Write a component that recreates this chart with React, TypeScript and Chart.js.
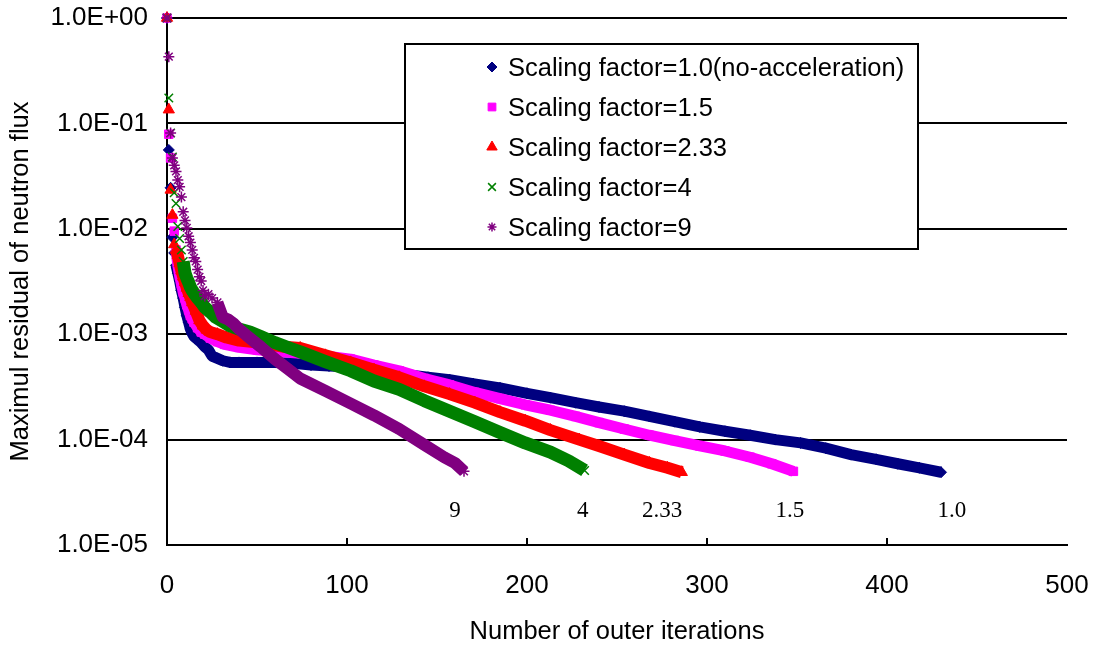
import React, { useEffect, useRef } from 'react';
import { Chart, registerables } from 'chart.js';
import { drawPoint } from 'chart.js/helpers';

Chart.register(...registerables);

// ---------- data ----------
const seriesNames = [
  'Scaling factor=1.0(no-acceleration)',
  'Scaling factor=1.5',
  'Scaling factor=2.33',
  'Scaling factor=4',
  'Scaling factor=9',
];
const seriesColors = ['#000080', '#FF00FF', '#FF0000', '#008000', '#800080'];
const seriesMarkers = ['rectRot', 'rect', 'triangle', 'crossRot', 'star'];

const iterSf10 = [0, 1, 2, 3, 4, 5, 6, 7, 8, 9, 10, 11, 12, 13, 14, 15, 17, 19, 21, 23, 25, 28, 31, 35, 40, 50, 60, 70, 80, 90, 100, 115, 130, 145, 157, 170, 185, 200, 213, 227, 240, 254, 268, 282, 296, 310, 324, 338, 352, 366, 380, 394, 406, 418, 430];
const residSf10 = [1.0, 0.056, 0.0245, 0.0083, 0.0059, 0.0045, 0.0038, 0.0032, 0.0026, 0.0022, 0.0018, 0.0015, 0.0013, 0.00112, 0.00102, 0.00095, 0.00089, 0.00083, 0.00076, 0.00071, 0.00062, 0.00059, 0.00056, 0.00054, 0.00054, 0.00054, 0.00054, 0.00053, 0.00051, 0.0005, 0.00049, 0.00046, 0.00042, 0.00039, 0.00037, 0.00034, 0.00031, 0.000275, 0.00025, 0.000224, 0.000204, 0.000186, 0.000166, 0.000148, 0.000132, 0.00012, 0.00011, 0.0001, 0.000093, 0.000083, 0.000072, 0.000065, 0.000059, 0.000054, 0.000049];

const iterSf15 = [0, 1, 2, 3, 4, 5, 6, 7, 8, 9, 10, 11, 12, 13, 14, 15, 17, 19, 21, 24, 28, 32, 40, 50, 60, 74, 88, 102, 115, 129, 143, 157, 171, 185, 199, 213, 227, 240, 254, 268, 282, 296, 310, 324, 336, 348];
const residSf15 = [1.0, 0.079, 0.047, 0.0126, 0.0095, 0.0063, 0.0045, 0.0036, 0.003, 0.0025, 0.0022, 0.0019, 0.0017, 0.0015, 0.0014, 0.0013, 0.00115, 0.00105, 0.001, 0.00092, 0.00085, 0.0008, 0.00075, 0.00071, 0.00069, 0.00066, 0.00062, 0.00058, 0.00051, 0.00045, 0.00038, 0.00033, 0.00028, 0.000245, 0.000214, 0.00019, 0.000166, 0.000145, 0.000126, 0.00011, 0.000098, 0.000087, 0.000078, 0.000068, 0.000059, 0.00005];

const iterSf233 = [0, 1, 2, 3, 4, 5, 6, 7, 8, 9, 10, 11, 12, 13, 14, 16, 18, 20, 22, 24, 28, 33, 40, 52, 65, 74, 88, 102, 115, 129, 143, 157, 171, 185, 199, 213, 229, 240, 254, 268, 278, 286];
const residSf233 = [1.0, 0.135, 0.0234, 0.0135, 0.0071, 0.0063, 0.0056, 0.0047, 0.004, 0.0035, 0.0031, 0.00275, 0.00245, 0.00224, 0.002, 0.00166, 0.00135, 0.0012, 0.0011, 0.00105, 0.001, 0.00093, 0.00087, 0.00083, 0.00076, 0.00074, 0.00063, 0.00054, 0.00046, 0.00039, 0.00032, 0.00027, 0.000224, 0.000182, 0.000151, 0.000123, 0.0001, 0.000087, 0.000072, 0.00006, 0.000054, 0.000049];

const iterSf4 = [0, 1, 2, 3, 4, 5, 6, 7, 8, 9, 10, 11, 12, 13, 14, 15, 17, 19, 21, 24, 27, 31, 35, 40, 46, 52, 60, 68, 74, 88, 102, 115, 129, 143, 157, 171, 185, 199, 213, 223, 232];
const residSf4 = [1.0, 0.174, 0.081, 0.048, 0.022, 0.0174, 0.0105, 0.0081, 0.0063, 0.0049, 0.0038, 0.0034, 0.0031, 0.0028, 0.0026, 0.00245, 0.0022, 0.002, 0.0018, 0.00162, 0.00145, 0.00132, 0.0012, 0.00112, 0.00105, 0.00095, 0.00083, 0.00074, 0.00068, 0.00055, 0.00045, 0.00036, 0.0003, 0.000234, 0.000186, 0.000148, 0.000117, 0.000093, 0.000076, 0.000063, 0.000051];

const iterSf9 = [0, 1, 2, 3, 4, 5, 6, 7, 8, 9, 10, 11, 12, 13, 14, 15, 16, 17, 18, 19, 20, 21, 23, 25, 28, 31, 34, 37, 40, 45, 52, 60, 67, 74, 88, 102, 115, 129, 143, 154, 160, 165];
const residSf9 = [1.0, 0.43, 0.081, 0.047, 0.04, 0.035, 0.029, 0.025, 0.02, 0.0145, 0.012, 0.0102, 0.0085, 0.0074, 0.0063, 0.0053, 0.0049, 0.0041, 0.0035, 0.0032, 0.0026, 0.0023, 0.0024, 0.0022, 0.002, 0.00145, 0.00138, 0.00126, 0.00112, 0.00095, 0.00076, 0.00058, 0.00047, 0.00038, 0.00029, 0.00022, 0.00017, 0.000126, 0.000089, 0.000068, 0.00006, 0.00005];

const seriesIters = [iterSf10, iterSf15, iterSf233, iterSf4, iterSf9];
const seriesResid = [residSf10, residSf15, residSf233, residSf4, residSf9];

const yTickValues = [1e-5, 1e-4, 1e-3, 1e-2, 1e-1, 1];
const yTickLabels = ['1.0E-05', '1.0E-04', '1.0E-03', '1.0E-02', '1.0E-01', '1.0E+00'];
const xTickValues = [0, 100, 200, 300, 400, 500];
const xTickLabels = ['0', '100', '200', '300', '400', '500'];

const endLabels = ['9', '4', '2.33', '1.5', '1.0'];
const endLabelIter = [160, 231, 275, 346, 436];
const endLabelResid = 2.1e-5;

// ---------- styling ----------
const bandWidth = [11, 11, 12, 13, 12];
const lineStart = [5, 5, 5, 9, 28];
const pointRadius = [5.5, 6, 6.5, 6, 5.5];
const legendRadius = [5, 5.5, 6, 5.5, 4.5];
const SANS = '"Liberation Sans", Arial, sans-serif';

const legendPlugin = {
  id: 'boxLegend',
  afterDraw(chart: any) {
    const ctx = chart.ctx as CanvasRenderingContext2D;
    ctx.save();
    ctx.fillStyle = '#ffffff';
    ctx.fillRect(405, 44, 513, 205);
    ctx.lineWidth = 2;
    ctx.strokeStyle = '#000000';
    ctx.strokeRect(405, 44, 513, 205);
    seriesNames.forEach((name, i) => {
      const y = 67 + i * 40;
      ctx.fillStyle = seriesColors[i];
      ctx.strokeStyle = seriesColors[i];
      ctx.lineWidth = i >= 3 ? 1.5 : 1;
      drawPoint(ctx, { pointStyle: seriesMarkers[i], radius: legendRadius[i], borderWidth: i >= 3 ? 1.5 : 1, rotation: 0 } as any, 492, y);
      ctx.fillStyle = '#000000';
      ctx.font = `25.5px ${SANS}`;
      ctx.textAlign = 'left';
      ctx.textBaseline = 'alphabetic';
      ctx.fillText(name, 508, y + 9);
    });
    ctx.restore();
  },
};

const annotPlugin = {
  id: 'endLabels',
  afterDraw(chart: any) {
    const ctx = chart.ctx as CanvasRenderingContext2D;
    const xs = chart.scales.x;
    const ys = chart.scales.y;
    ctx.save();
    ctx.strokeStyle = '#000000';
    ctx.lineWidth = 2;
    xTickValues.slice(1, -1).forEach((v) => {
      const px = Math.round(xs.getPixelForValue(v));
      ctx.beginPath();
      ctx.moveTo(px, chart.chartArea.bottom);
      ctx.lineTo(px, chart.chartArea.bottom - 7);
      ctx.stroke();
    });
    ctx.fillStyle = '#000000';
    ctx.font = '23px "Liberation Serif", "Times New Roman", serif';
    ctx.textAlign = 'center';
    ctx.textBaseline = 'middle';
    endLabels.forEach((t, i) => {
      ctx.fillText(t, xs.getPixelForValue(endLabelIter[i]), ys.getPixelForValue(endLabelResid));
    });
    ctx.restore();
  },
};

export default function App() {
  const ref = useRef<HTMLCanvasElement | null>(null);
  useEffect(() => {
    if (!ref.current) return;
    Chart.defaults.font.family = SANS;
    const datasets = seriesNames.map((name, i) => {
      const color = seriesColors[i];
      return {
        label: name,
        data: seriesIters[i].map((x, k) => ({ x, y: seriesResid[i][k] })),
        showLine: true,
        borderColor: color,
        backgroundColor: color,
        borderWidth: bandWidth[i],
        borderJoinStyle: 'round' as const,
        tension: 0,
        pointStyle: seriesMarkers[i],
        pointRadius: pointRadius[i],
        pointBorderWidth: i >= 3 ? 1.5 : 1,
        pointBackgroundColor: color,
        pointBorderColor: color,
        segment: {
          borderColor: (c: any) => (c.p0.parsed.x < lineStart[i] ? 'rgba(0,0,0,0)' : color),
        },
        clip: false as any,
        order: 5 - i,
      };
    });
    const chart = new Chart(ref.current, {
      type: 'scatter',
      data: { datasets },
      plugins: [legendPlugin, annotPlugin],
      options: {
        animation: false,
        responsive: false,
        devicePixelRatio: 1,
        events: [],
        layout: { padding: { top: 18, right: 32, left: 0, bottom: 0 } },
        plugins: { legend: { display: false }, tooltip: { enabled: false } },
        scales: {
          x: {
            type: 'linear',
            min: 0,
            max: 500,
            afterBuildTicks: (s: any) => {
              s.ticks = xTickValues.map((v) => ({ value: v }));
            },
            afterFit: (s: any) => {
              s.height = 105;
              s.paddingLeft = 0;
              s.paddingRight = 0;
            },
            grid: { display: false, drawTicks: false },
            border: { display: true, color: '#000000', width: 2 },
            ticks: {
              color: '#000000',
              font: { size: 26 },
              padding: 25,
              maxRotation: 0,
              callback: (v: any) => xTickLabels[xTickValues.indexOf(Number(v))],
            },
            title: {
              display: true,
              text: 'Number of outer iterations',
              color: '#000000',
              font: { size: 25.5 },
              padding: { top: 0, bottom: 3 },
            },
          },
          y: {
            type: 'logarithmic',
            min: 1e-5,
            max: 1,
            afterBuildTicks: (s: any) => {
              s.ticks = yTickValues.map((v) => ({ value: v }));
            },
            afterFit: (s: any) => {
              s.width = 167;
              s.paddingTop = 0;
              s.paddingBottom = 0;
            },
            grid: { color: '#000000', lineWidth: 2, drawTicks: false },
            border: { display: true, color: '#000000', width: 2 },
            ticks: {
              color: '#000000',
              font: { size: 26 },
              padding: 19,
              callback: (v: any) => yTickLabels[yTickValues.findIndex((t) => Math.abs(t - Number(v)) / t < 1e-6)],
            },
            title: {
              display: true,
              text: 'Maximul residual of neutron flux',
              color: '#000000',
              font: { size: 25.5 },
              padding: { top: 6, bottom: 0 },
            },
          },
        },
      },
    });
    return () => chart.destroy();
  }, []);
  return (
    <div style={{ position: 'fixed', left: 0, top: 0, width: 1099, height: 650, background: '#fff' }}>
      <canvas ref={ref} width={1099} height={650} style={{ display: 'block' }} />
    </div>
  );
}
